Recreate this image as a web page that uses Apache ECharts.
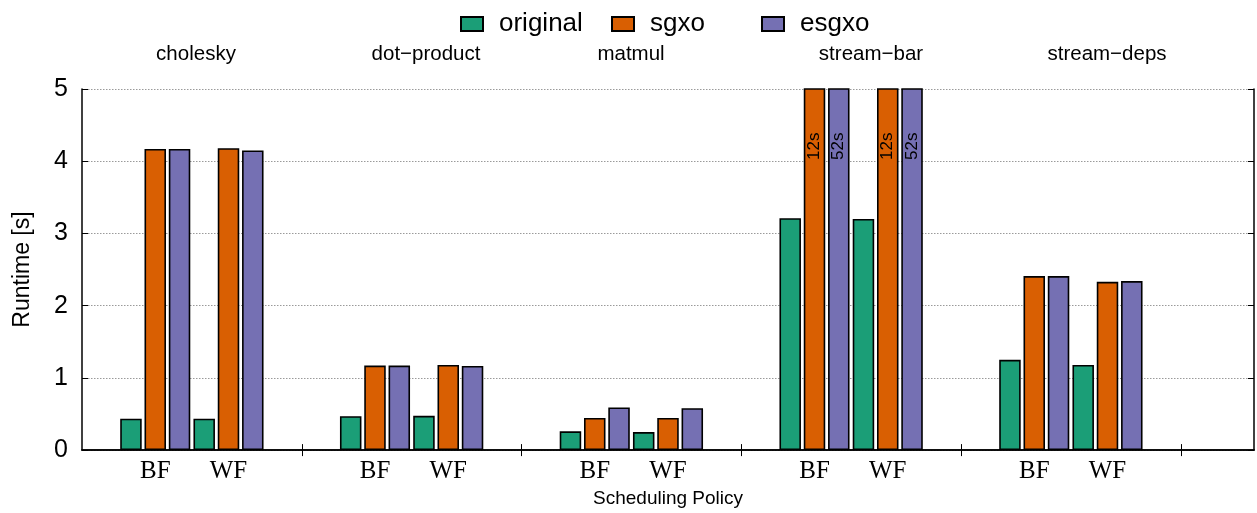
<!DOCTYPE html>
<html>
<head>
<meta charset="utf-8">
<title>Runtime per scheduling policy</title>
<script src="https://cdn.jsdelivr.net/npm/echarts@6/dist/echarts.min.js"></script>
<style>
  html, body { margin: 0; padding: 0; background: #fff; }
  #chart { width: 1257px; height: 513px; }
</style>
</head>
<body>
<div id="chart"></div>
<script>
// Benchmarks, each run under two scheduling policies.
const workloads = ['cholesky', 'dot\u2212product', 'matmul', 'stream\u2212bar', 'stream\u2212deps'];
const policies = ['BF', 'WF'];
const variants = ['original', 'sgxo', 'esgxo'];

// Runtime in seconds, ordered workload by workload, BF then WF.
const original = [0.435, 0.435, 0.47, 0.475, 0.26, 0.25, 3.21, 3.20, 1.25, 1.18];
const sgxo     = [4.17, 4.18, 1.17, 1.18, 0.445, 0.445, 12, 12, 2.41, 2.33];
const esgxo    = [4.17, 4.15, 1.17, 1.165, 0.59, 0.58, 52, 52, 2.41, 2.34];

const yMax = 5;
const yTicks = [0, 1, 2, 3, 4, 5];

// Workload title centres along the top of the plot.
const titleX = [196, 426, 631, 871, 1107];
// Legend entry positions (left edge of each swatch).
const legendX = [460, 611, 761];

const FONT = "'Liberation Sans', Arial, Helvetica, sans-serif";
const SERIF = "'Liberation Serif', 'Times New Roman', serif";

// Slot layout: each workload spans three slots, with BF and WF on the
// inner two; the trailing slots pad the right-hand side of the plot.
const slots = [];
const slotIndex = [];
workloads.forEach((w) => {
  slots.push(w + '|');
  policies.forEach((p) => {
    slotIndex.push(slots.length);
    slots.push(w + '|' + p);
  });
});
slots.push('pad1|');
slots.push('pad2|');

function spread(values) {
  const out = slots.map(() => null);
  values.forEach((v, i) => {
    out[slotIndex[i]] = { value: v, label: { show: v > yMax } };
  });
  return out;
}

const colors = { original: '#1b9e77', sgxo: '#d95f02', esgxo: '#7570b3' };

function barSeries(name, values) {
  return {
    name: name,
    type: 'bar',
    data: spread(values),
    barWidth: 21.5,
    barGap: '13%',
    clip: true,
    itemStyle: { color: colors[name], borderColor: '#000', borderWidth: 1.6 },
    emphasis: { disabled: true },
    label: {
      show: false,
      position: ['50%', 58],
      rotate: 90,
      align: 'center',
      verticalAlign: 'middle',
      fontFamily: FONT,
      fontSize: 17,
      color: '#000',
      formatter: (p) => p.value + 's'
    }
  };
}

const boundaryTick = (idx) => idx % 3 === 0 && idx > 0 && idx < slots.length - 1;

const chart = echarts.init(document.getElementById('chart'), null, { renderer: 'canvas' });

chart.setOption({
  animation: false,
  backgroundColor: '#fff',
  textStyle: { fontFamily: FONT, color: '#000' },
  legend: variants.map((name, i) => ({
    top: 6,
    left: legendX[i] - 5,
    itemWidth: 22,
    itemHeight: 14,
    icon: 'rect',
    selectedMode: false,
    textStyle: {
      fontFamily: FONT,
      fontSize: 26,
      color: '#000',
      padding: [0, 0, 0, 11]
    },
    data: [name]
  })),
  grid: { left: 82, width: 1177, top: 89, bottom: 61, containLabel: false },
  xAxis: [
    {
      type: 'category',
      boundaryGap: false,
      data: slots,
      position: 'bottom',
      name: 'Scheduling Policy',
      nameLocation: 'middle',
      nameGap: 38,
      nameTextStyle: { fontFamily: FONT, fontSize: 19, color: '#000' },
      axisLine: { show: true, lineStyle: { color: '#000', width: 1.5 } },
      axisTick: { show: true, inside: true, length: 6, interval: boundaryTick, lineStyle: { color: '#000', width: 1 } },
      axisLabel: {
        interval: 0,
        margin: 9,
        fontFamily: SERIF,
        fontSize: 25,
        color: '#000',
        formatter: (v) => v.split('|')[1]
      },
      splitLine: { show: false }
    },
    {
      type: 'category',
      boundaryGap: false,
      data: slots,
      position: 'top',
      axisLine: { show: true, lineStyle: { color: '#000', width: 1.5 } },
      axisTick: { show: true, inside: true, length: 6, interval: boundaryTick, lineStyle: { color: '#000', width: 1 } },
      axisLabel: { show: false },
      splitLine: { show: false }
    }
  ],
  yAxis: [
    {
      type: 'value',
      min: yTicks[0],
      max: yMax,
      interval: 1,
      position: 'left',
      name: 'Runtime [s]',
      nameLocation: 'middle',
      nameGap: 48,
      nameTextStyle: { fontFamily: FONT, fontSize: 23, color: '#000' },
      axisLine: { show: true, lineStyle: { color: '#000', width: 1.5 } },
      axisTick: { show: true, inside: true, length: 6, lineStyle: { color: '#000', width: 1 } },
      axisLabel: {
        margin: 14,
        fontFamily: FONT,
        fontSize: 25,
        color: '#000',
        formatter: (v) => (yTicks.indexOf(v) >= 0 ? String(v) : '')
      },
      splitLine: {
        show: true,
        lineStyle: { color: '#9a9a9a', width: 1, type: [1.5, 1.5] }
      }
    },
    {
      type: 'value',
      min: yTicks[0],
      max: yMax,
      interval: 1,
      position: 'right',
      axisLine: { show: true, lineStyle: { color: '#000', width: 1.5 } },
      axisTick: { show: true, inside: true, length: 6, lineStyle: { color: '#000', width: 1 } },
      axisLabel: { show: false },
      splitLine: { show: false }
    }
  ],
  graphic: workloads.map((w, i) => ({
    type: 'text',
    x: titleX[i],
    y: 54,
    silent: true,
    style: {
      text: w,
      fontFamily: FONT,
      fontSize: 20.5,
      fill: '#000',
      align: 'center',
      verticalAlign: 'middle'
    }
  })),
  series: [
    barSeries('original', original),
    barSeries('sgxo', sgxo),
    barSeries('esgxo', esgxo)
  ]
});
</script>
</body>
</html>
